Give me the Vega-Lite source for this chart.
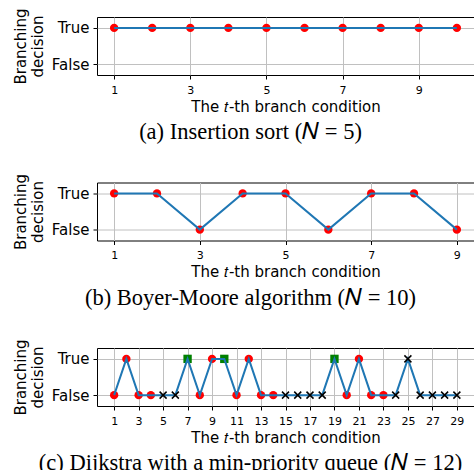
{
  "$schema": "https://vega.github.io/schema/vega-lite/v6.json",
  "padding": {"left": 12, "top": 7, "right": 0, "bottom": 0},
  "spacing": 28.5,
  "config": {
    "font": "DejaVu Sans",
    "view": {"stroke": "#000000", "strokeWidth": 1},
    "axis": {"domain": false, "grid": true, "gridColor": "#c0c0c0", "gridWidth": 1, "tickColor": "#000000", "tickSize": 4, "labelColor": "#000000", "titleColor": "#000000", "titleFontWeight": "normal", "titleFontSize": 15, "labelFont": "DejaVu Sans", "titleFont": "DejaVu Sans"},
    "axisX": {"labelFontSize": 11, "labelPadding": 5, "titlePadding": 4, "labelFlush": false},
    "axisY": {"labelFontSize": 15, "labelPadding": 4, "titlePadding": 6},
    "title": {"font": "Liberation Serif", "fontSize": 22.5, "fontWeight": "normal", "color": "#000000", "orient": "bottom", "anchor": "middle", "offset": 7, "dx": -35}
  },
  "vconcat": [
    {
      "width": 377, "height": 58,
      "title": {"text": "(a) Insertion sort (𝑁 = 5)"},
      "data": {"values": [
        {"t": 1, "d": 1}, {"t": 2, "d": 1}, {"t": 3, "d": 1}, {"t": 4, "d": 1}, {"t": 5, "d": 1},
        {"t": 6, "d": 1}, {"t": 7, "d": 1}, {"t": 8, "d": 1}, {"t": 9, "d": 1}, {"t": 10, "d": 1}
      ]},
      "encoding": {
        "x": {"field": "t", "type": "quantitative", "scale": {"domain": [0.55, 10.45], "nice": false, "zero": false}, "axis": {"values": [1, 3, 5, 7, 9], "title": "The 𝑡-th branch condition"}},
        "y": {"field": "d", "type": "quantitative", "scale": {"domain": [-0.3, 1.3], "nice": false}, "axis": {"values": [0, 1], "labelExpr": "datum.value == 1 ? 'True' : 'False'", "title": ["Branching", "decision"]}}
      },
      "layer": [
        {"mark": {"type": "point", "filled": true, "shape": "circle", "color": "#ff0000", "size": 70, "opacity": 1}, "encoding": {}},
        {"mark": {"type": "line", "color": "#1f77b4", "strokeWidth": 2}, "encoding": {}}
      ]
    },
    {
      "width": 377, "height": 58,
      "title": {"text": "(b) Boyer-Moore algorithm (𝑁 = 10)"},
      "data": {"values": [
        {"t": 1, "d": 1}, {"t": 2, "d": 1}, {"t": 3, "d": 0}, {"t": 4, "d": 1}, {"t": 5, "d": 1},
        {"t": 6, "d": 0}, {"t": 7, "d": 1}, {"t": 8, "d": 1}, {"t": 9, "d": 0}
      ]},
      "encoding": {
        "x": {"field": "t", "type": "quantitative", "scale": {"domain": [0.6, 9.4], "nice": false, "zero": false}, "axis": {"values": [1, 3, 5, 7, 9], "title": "The 𝑡-th branch condition"}},
        "y": {"field": "d", "type": "quantitative", "scale": {"domain": [-0.3, 1.3], "nice": false}, "axis": {"values": [0, 1], "labelExpr": "datum.value == 1 ? 'True' : 'False'", "title": ["Branching", "decision"]}}
      },
      "layer": [
        {"mark": {"type": "point", "filled": true, "shape": "circle", "color": "#ff0000", "size": 70, "opacity": 1}, "encoding": {}},
        {"mark": {"type": "line", "color": "#1f77b4", "strokeWidth": 2}, "encoding": {}}
      ]
    },
    {
      "width": 377, "height": 58,
      "title": {"text": "(c) Dijkstra with a min-priority queue (𝑁 = 12)"},
      "data": {"values": [
        {"t": 1, "d": 0, "m": "o"}, {"t": 2, "d": 1, "m": "o"}, {"t": 3, "d": 0, "m": "o"}, {"t": 4, "d": 0, "m": "o"},
        {"t": 5, "d": 0, "m": "x"}, {"t": 6, "d": 0, "m": "x"}, {"t": 7, "d": 1, "m": "s"}, {"t": 8, "d": 0, "m": "o"},
        {"t": 9, "d": 1, "m": "o"}, {"t": 10, "d": 1, "m": "s"}, {"t": 11, "d": 0, "m": "o"}, {"t": 12, "d": 1, "m": "o"},
        {"t": 13, "d": 0, "m": "o"}, {"t": 14, "d": 0, "m": "o"}, {"t": 15, "d": 0, "m": "x"}, {"t": 16, "d": 0, "m": "x"},
        {"t": 17, "d": 0, "m": "x"}, {"t": 18, "d": 0, "m": "x"}, {"t": 19, "d": 1, "m": "s"}, {"t": 20, "d": 0, "m": "o"},
        {"t": 21, "d": 1, "m": "o"}, {"t": 22, "d": 0, "m": "o"}, {"t": 23, "d": 0, "m": "o"}, {"t": 24, "d": 0, "m": "x"},
        {"t": 25, "d": 1, "m": "x"}, {"t": 26, "d": 0, "m": "x"}, {"t": 27, "d": 0, "m": "x"}, {"t": 28, "d": 0, "m": "x"},
        {"t": 29, "d": 0, "m": "x"}
      ]},
      "encoding": {
        "x": {"field": "t", "type": "quantitative", "scale": {"domain": [-0.4, 30.4], "nice": false, "zero": false}, "axis": {"values": [1, 3, 5, 7, 9, 11, 13, 15, 17, 19, 21, 23, 25, 27, 29], "title": "The 𝑡-th branch condition"}},
        "y": {"field": "d", "type": "quantitative", "scale": {"domain": [-0.3, 1.3], "nice": false}, "axis": {"values": [0, 1], "labelExpr": "datum.value == 1 ? 'True' : 'False'", "title": ["Branching", "decision"]}}
      },
      "layer": [
        {
          "transform": [{"filter": "datum.m != 'x'"}],
          "mark": {"type": "point", "filled": true, "size": 70, "opacity": 1},
          "encoding": {
            "color": {"field": "m", "type": "nominal", "scale": {"domain": ["o", "s"], "range": ["#ff0000", "#008000"]}, "legend": null},
            "shape": {"field": "m", "type": "nominal", "scale": {"domain": ["o", "s"], "range": ["circle", "square"]}, "legend": null}
          }
        },
        {"mark": {"type": "line", "color": "#1f77b4", "strokeWidth": 2}, "encoding": {}},
        {
          "transform": [{"filter": "datum.m == 'x'"}],
          "mark": {"type": "point", "filled": false, "shape": "M-1,-1L1,1M-1,1L1,-1", "size": 49, "stroke": "#000000", "strokeWidth": 1.5, "opacity": 1},
          "encoding": {}
        }
      ]
    }
  ]
}
